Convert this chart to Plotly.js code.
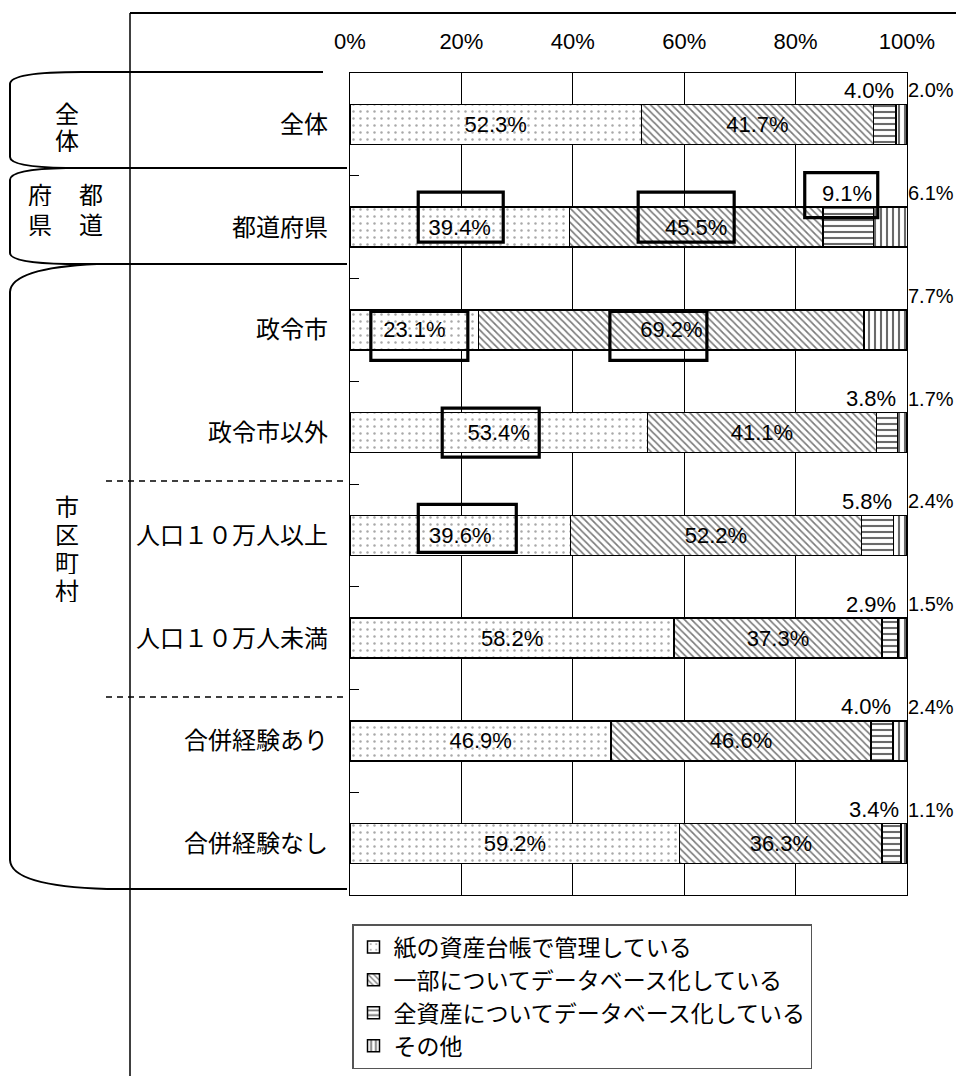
<!DOCTYPE html>
<html>
<head>
<meta charset="utf-8">
<script src="https://cdn.plot.ly/plotly-3.0.1.min.js"></script>
<style>
  html, body { margin: 0; padding: 0; background: #fff; }
  #chart { width: 956px; height: 1086px; }
</style>
</head>
<body>
<div id="chart"></div>
<script>
// Asset ledger management method, by type of local government (%)
const categories = ['全体', '都道府県', '政令市', '政令市以外', '人口１０万人以上', '人口１０万人未満', '合併経験あり', '合併経験なし'];
const paperLedger = [52.3, 39.4, 23.1, 53.4, 39.6, 58.2, 46.9, 59.2];
const partialDb   = [41.7, 45.5, 69.2, 41.1, 52.2, 37.3, 46.6, 36.3];
const fullDb      = [4.0, 9.1, 0, 3.8, 5.8, 2.9, 4.0, 3.4];
const otherMethod = [2.0, 6.1, 7.7, 1.7, 2.4, 1.5, 2.4, 1.1];
const seriesNames = ['紙の資産台帳で管理している', '一部についてデータベース化している', '全資産についてデータベース化している', 'その他'];
const tickValues = [0, 20, 40, 60, 80, 100];
const tickLabels = ['0%', '20%', '40%', '60%', '80%', '100%'];

// group headings drawn at the left side
const groupHeadings = [
  { chars: ['全', '体'], x: 67, y: [112, 139] },
  { chars: ['都', '道'], x: 91, y: [193, 223] },
  { chars: ['府', '県'], x: 40, y: [193, 223] },
  { chars: ['市', '区', '町', '村'], x: 67, y: [505, 533, 561, 589] }
];

// emphasised labels: [category index, series index] plus box placement (px)
const highlights = [
  { cat: 1, series: 0, dx: 1,   dy: -10,  w: 85, h: 50 },
  { cat: 1, series: 1, dx: -10, dy: -10,  w: 96, h: 50 },
  { cat: 1, series: 2, dx: -7,  dy: -32,  w: 73, h: 45 },
  { cat: 2, series: 0, dx: 5,   dy: 6,    w: 97, h: 49 },
  { cat: 2, series: 1, dx: -13, dy: 6,    w: 97, h: 49 },
  { cat: 3, series: 0, dx: -8,  dy: 0,    w: 97, h: 49 },
  { cat: 4, series: 0, dx: 7,   dy: -7,   w: 98, h: 48 }
];

const W = 956, H = 1086;
const M = { l: 350, r: 49, t: 73, b: 191 };
const PW = W - M.l - M.r, PH = H - M.t - M.b;
const X = px => (px - M.l) / PW;
const Y = py => (H - M.b - py) / PH;
const P = (px, py) => X(px).toFixed(5) + ',' + Y(py).toFixed(5);

const JP = 'Noto Sans CJK JP, Noto Sans, sans-serif';
const NUM = 'Liberation Sans Narrow, Arial Narrow, Liberation Sans, Arial, sans-serif';

const seriesValues = [paperLedger, partialDb, fullDb, otherMethod];
const patterns = [
  { shape: '.',  fgcolor: '#a8a8a8', bgcolor: '#ffffff', size: 7, solidity: 0.1 },
  { shape: '\\', fgcolor: '#7a7a7a', bgcolor: '#ffffff', size: 5, solidity: 0.33 },
  { shape: '-',  fgcolor: '#6a6a6a', bgcolor: '#ffffff', size: 6, solidity: 0.35 },
  { shape: '|',  fgcolor: '#6a6a6a', bgcolor: '#ffffff', size: 6, solidity: 0.35 }
];

const traces = seriesValues.map((vals, i) => ({
  type: 'bar',
  orientation: 'h',
  name: seriesNames[i],
  y: categories,
  x: vals,
  width: 0.39,
  marker: { color: '#ffffff', pattern: patterns[i], line: { color: '#000', width: 1.5 } },
  text: i < 2 ? vals.map(v => v.toFixed(1) + '%') : undefined,
  textposition: i < 2 ? 'inside' : 'none',
  insidetextanchor: 'middle',
  textangle: 0,
  constraintext: 'none',
  insidetextfont: { family: NUM, size: 22, color: '#000' },
  hoverinfo: 'skip'
}));

// cumulative starts of each segment
const starts = seriesValues.map((vals, i) =>
  vals.map((_, k) => seriesValues.slice(0, i).reduce((s, arr) => s + arr[k], 0)));

const annotations = [];
// small segments: labels above the bar
categories.forEach((c, k) => {
  if (fullDb[k] > 0) {
    annotations.push({
      x: starts[2][k] + fullDb[k], y: c, xref: 'x', yref: 'y',
      text: fullDb[k].toFixed(1) + '%', showarrow: false,
      xanchor: 'right', yanchor: 'middle', yshift: 34,
      font: { family: NUM, size: 22, color: '#000' }
    });
  }
  if (otherMethod[k] > 0) {
    annotations.push({
      x: 100, y: c, xref: 'x', yref: 'y',
      text: otherMethod[k].toFixed(1) + '%', showarrow: false,
      xanchor: 'left', yanchor: 'middle', xshift: -1, yshift: 34,
      font: { family: NUM, size: 20, color: '#000' }
    });
  }
});
// group headings, one character per line
groupHeadings.forEach(g => {
  g.chars.forEach((ch, j) => {
    annotations.push({
      x: X(g.x), y: Y(g.y[j]), xref: 'paper', yref: 'paper',
      text: ch, showarrow: false, xanchor: 'center', yanchor: 'middle',
      height: 26, borderpad: 0,
      font: { family: JP, size: 24, color: '#000' }
    });
  });
});

const line = (x0, y0, x1, y1, width, dash) => ({
  type: 'line', xref: 'paper', yref: 'paper',
  x0: X(x0), y0: Y(y0), x1: X(x1), y1: Y(y1),
  line: { color: '#000', width: width, dash: dash || 'solid' }, layer: 'above'
});
const path = (d, width) => ({
  type: 'path', xref: 'paper', yref: 'paper', path: d,
  line: { color: '#000', width: width }, layer: 'above'
});

const shapes = [
  // frame lines
  line(130, 13, 956, 13, 2),
  line(130, 13, 130, 1076, 1.5),
  // brackets for the three groups
  path('M' + P(323, 72) + ' L' + P(82, 72) + ' Q' + P(10, 72) + ' ' + P(10, 84) +
       ' L' + P(10, 157) + ' Q' + P(10, 167) + ' ' + P(66, 168), 2),
  line(66, 168, 347, 168, 2),
  path('M' + P(66, 168) + ' Q' + P(10, 169) + ' ' + P(10, 180) +
       ' L' + P(10, 253) + ' Q' + P(10, 263) + ' ' + P(66, 264), 2),
  line(66, 264, 347, 264, 2),
  path('M' + P(97, 264) + ' Q' + P(11, 268) + ' ' + P(10, 292) +
       ' L' + P(10, 860) + ' Q' + P(11, 886) + ' ' + P(107, 889), 2),
  line(107, 889, 347, 889, 2),
  // sub-group separators
  line(106, 481, 347, 481, 1.5, '6px,5px'),
  line(106, 697, 347, 697, 1.5, '6px,5px')
];

// emphasis boxes around selected labels
highlights.forEach(hl => {
  const v = seriesValues[hl.series][hl.cat];
  shapes.push({
    type: 'rect', xref: 'x', yref: 'y',
    xsizemode: 'pixel', ysizemode: 'pixel',
    xanchor: starts[hl.series][hl.cat] + v / 2,
    yanchor: categories[hl.cat],
    x0: hl.dx - hl.w / 2, x1: hl.dx + hl.w / 2,
    y0: -(hl.dy + hl.h / 2), y1: -(hl.dy - hl.h / 2),
    line: { color: '#000', width: 3.2 }, fillcolor: 'rgba(0,0,0,0)', layer: 'above'
  });
});

const layout = {
  width: W, height: H,
  margin: M,
  paper_bgcolor: '#fff', plot_bgcolor: '#fff',
  barmode: 'stack',
  showlegend: true,
  font: { family: JP, color: '#000' },
  xaxis: {
    side: 'top', range: [0, 100], fixedrange: true,
    tickmode: 'array', tickvals: tickValues, ticktext: tickLabels,
    ticks: '', ticklabelstandoff: 14,
    tickfont: { family: NUM, size: 22, color: '#000' },
    showgrid: true, gridcolor: '#000', gridwidth: 1,
    zeroline: false, showline: true, linecolor: '#000', linewidth: 1.2, mirror: true
  },
  yaxis: {
    type: 'category', categoryorder: 'array', categoryarray: categories,
    autorange: 'reversed', fixedrange: true,
    tickson: 'boundaries', ticks: 'inside', ticklen: 9, tickcolor: '#000', tickwidth: 1,
    ticklabelstandoff: 16,
    tickfont: { family: JP, size: 24, color: '#000' },
    showgrid: false, zeroline: false,
    showline: true, linecolor: '#000', linewidth: 1.2, mirror: true
  },
  legend: {
    x: X(352), y: Y(924), xanchor: 'left', yanchor: 'top',
    xref: 'paper', yref: 'paper',
    traceorder: 'normal', orientation: 'v',
    bgcolor: '#fff', bordercolor: '#555', borderwidth: 1.5,
    font: { family: JP, size: 23, color: '#000' },
    itemwidth: 30, itemclick: false, itemdoubleclick: false
  },
  annotations: annotations,
  shapes: shapes
};

Plotly.newPlot('chart', traces, layout, { displayModeBar: false, staticPlot: true });
</script>
</body>
</html>
